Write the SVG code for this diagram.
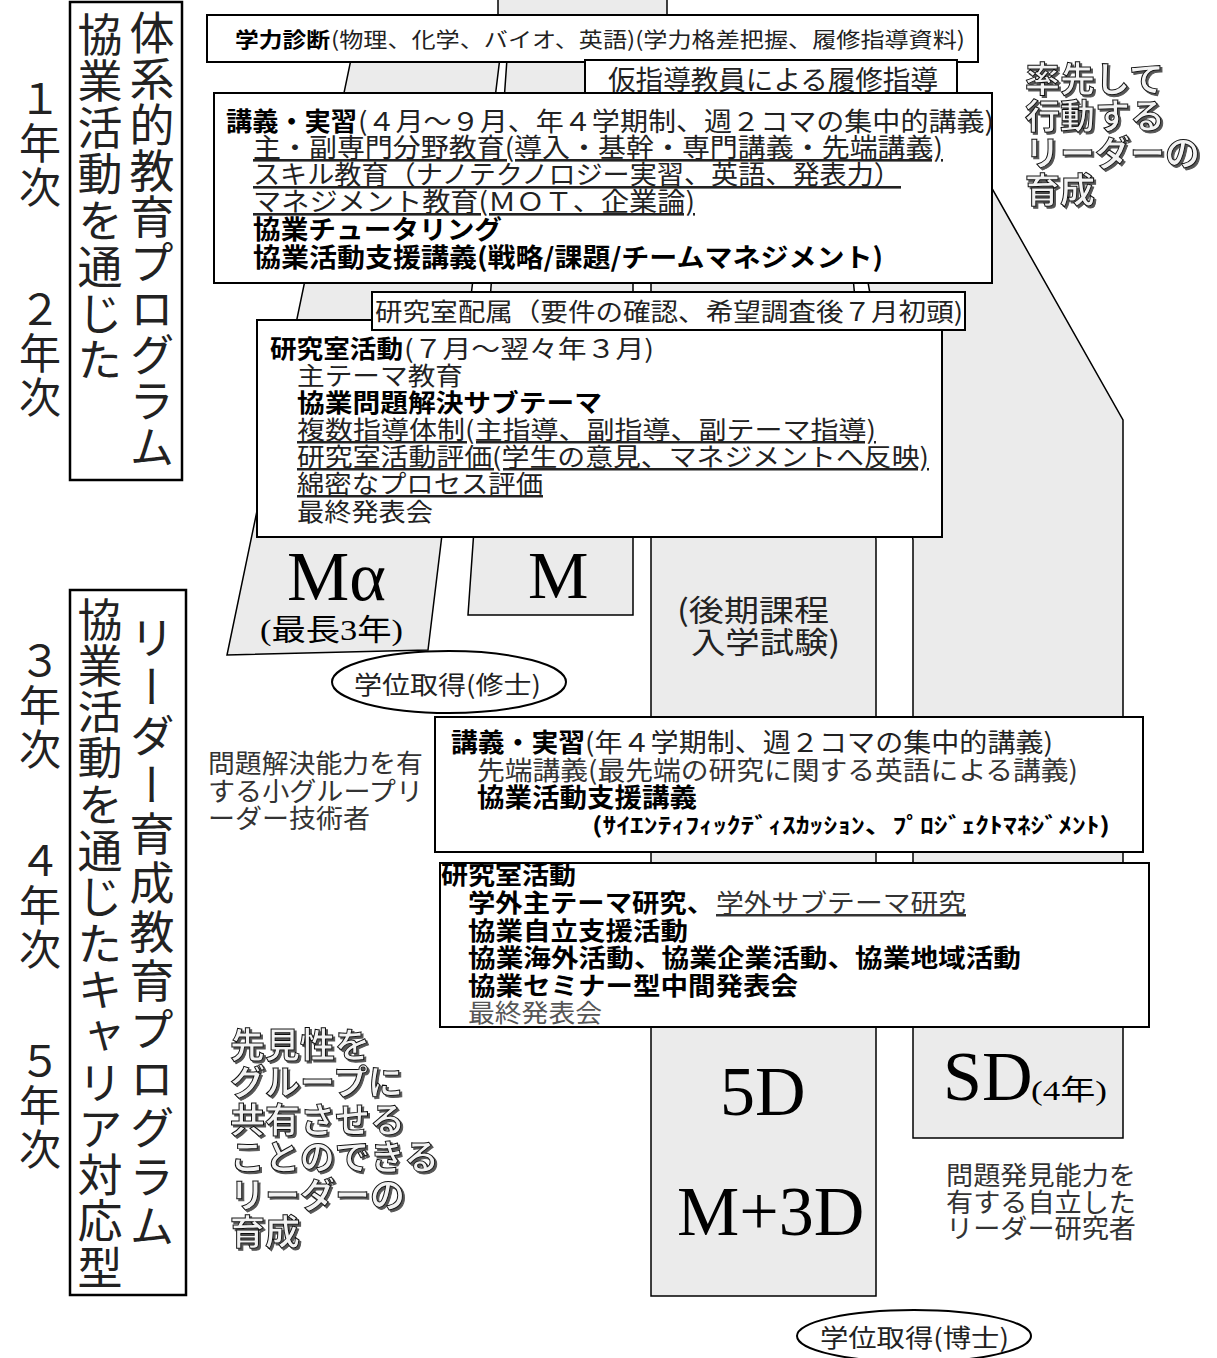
<svg xmlns="http://www.w3.org/2000/svg" width="1217" height="1358" viewBox="0 0 1217 1358">
<defs>
<style>
.col{fill:#ebebeb;stroke:#000;stroke-width:1.5}
.edge{stroke:#000;stroke-width:1.5;fill:none}
.box{fill:#fff;stroke:#000;stroke-width:2}
.lbox{fill:#fff;stroke:#000;stroke-width:2.5}
.j{font-family:"Noto Sans CJK JP","Noto Sans",sans-serif;fill:#222}
.b{font-weight:bold;fill:#000}
.u{text-decoration:underline}
.g{fill:#333}
.lg{fill:#555}
.s{font-family:"Liberation Serif","Noto Sans CJK JP",serif;fill:#000}
.v{writing-mode:vertical-rl}
.em{font-family:"Noto Sans CJK JP",sans-serif;font-weight:bold;font-size:35px;fill:#f2f2f2;stroke:#111;stroke-width:1;filter:url(#sh)}
</style>
<filter id="sh" x="-10%" y="-10%" width="130%" height="130%">
<feDropShadow dx="2" dy="2" stdDeviation="0.7" flood-color="#555"/>
</filter>
</defs>
<rect width="1217" height="1358" fill="#fff"/>

<g id="columns">
<rect x="498" y="0" width="169" height="17" fill="#ebebeb"/>
<line class="edge" x1="498" y1="0" x2="498" y2="17"/>
<line class="edge" x1="667" y1="0" x2="667" y2="17"/>
<polygon id="col-ma" class="col" points="360,16 505,16 428,650 227,655"/>
<polygon id="col-m" class="col" points="510,16 633,16 633,615 468,615"/>
<polygon id="col-5d" class="col" points="651,90 836,90 854,288 876,540 876,1296 651,1296"/>
<polygon id="col-sd" class="col" points="836,100 942,100 1123,420 1123,1138 913,1138 913,540 869,288"/>
</g>

<g id="label-years" class="j">
<text class="v" x="40" y="78" font-size="42" letter-spacing="2">１年次</text>
<text class="v" x="40" y="288" font-size="42" letter-spacing="2">２年次</text>
<text class="v" x="40" y="640" font-size="42" letter-spacing="2">３年次</text>
<text class="v" x="40" y="840" font-size="42" letter-spacing="2">４年次</text>
<text class="v" x="40" y="1040" font-size="42" letter-spacing="2">５年次</text>
</g>

<g id="program1">
<rect class="lbox" x="70" y="2" width="112" height="478"/>
<text class="j v" x="152" y="10" font-size="45" letter-spacing="1">体系的教育プログラム</text>
<text class="j v" x="100" y="12" font-size="45" letter-spacing="1.5">協業活動を通じた</text>
</g>

<g id="program2">
<rect class="lbox" x="70" y="590" width="116" height="705"/>
<text class="j v" x="152" y="615" font-size="45" letter-spacing="4">リーダー育成教育プログラム</text>
<text class="j v" x="100" y="597" font-size="45" letter-spacing="1.3">協業活動を通じたキャリア対応型</text>
</g>

<g id="diagnosis">
<rect class="box" x="207" y="15" width="771" height="47"/>
<text class="j" font-size="21"><tspan class="b" x="235" y="47" textLength="95" lengthAdjust="spacingAndGlyphs">学力診断</tspan><tspan x="331" y="47" textLength="634" lengthAdjust="spacingAndGlyphs">(物理、化学、バイオ、英語)(学力格差把握、履修指導資料)</tspan></text>
</g>

<g id="guidance">
<rect class="box" x="585" y="60" width="372" height="37"/>
<text class="j" x="608" y="90" font-size="27" textLength="330" lengthAdjust="spacingAndGlyphs">仮指導教員による履修指導</text>
</g>

<g id="lecture1">
<rect class="box" x="214" y="93" width="778" height="190"/>
<text class="j" font-size="26"><tspan class="b" x="226" y="131" textLength="131" lengthAdjust="spacingAndGlyphs">講義・実習</tspan><tspan x="358" y="131" textLength="636" lengthAdjust="spacingAndGlyphs">(４月～９月、年４学期制、週２コマの集中的講義)</tspan><tspan class="u" x="253" y="157" textLength="690" lengthAdjust="spacingAndGlyphs">主・副専門分野教育(導入・基幹・専門講義・先端講義)</tspan><tspan class="u" x="253" y="184" textLength="648" lengthAdjust="spacingAndGlyphs">スキル教育（ナノテクノロジー実習、英語、発表力）</tspan><tspan class="u" x="253" y="211" textLength="442" lengthAdjust="spacingAndGlyphs">マネジメント教育(ＭＯＴ、企業論)</tspan><tspan class="b" x="253" y="239" textLength="249" lengthAdjust="spacingAndGlyphs">協業チュータリング</tspan><tspan class="b" x="253" y="267" textLength="630" lengthAdjust="spacingAndGlyphs">協業活動支援講義(戦略/課題/チームマネジメント)</tspan></text>
</g>

<g id="lab1">
<rect class="box" x="257" y="320" width="685" height="217"/>
<text class="j" font-size="25"><tspan class="b" x="270" y="358" textLength="133" lengthAdjust="spacingAndGlyphs">研究室活動</tspan><tspan x="404" y="358" textLength="250" lengthAdjust="spacingAndGlyphs">(７月～翌々年３月)</tspan><tspan x="297" y="385" textLength="166" lengthAdjust="spacingAndGlyphs">主テーマ教育</tspan><tspan class="b" x="297" y="412" textLength="305" lengthAdjust="spacingAndGlyphs">協業問題解決サブテーマ</tspan><tspan class="u" x="297" y="439" textLength="579" lengthAdjust="spacingAndGlyphs">複数指導体制(主指導、副指導、副テーマ指導)</tspan><tspan class="u" x="297" y="466" textLength="632" lengthAdjust="spacingAndGlyphs">研究室活動評価(学生の意見、マネジメントへ反映)</tspan><tspan class="u" x="297" y="493" textLength="246" lengthAdjust="spacingAndGlyphs">綿密なプロセス評価</tspan><tspan x="297" y="521" textLength="136" lengthAdjust="spacingAndGlyphs">最終発表会</tspan></text>
</g>

<g id="assign">
<rect class="box" x="372" y="292" width="593" height="38"/>
<text class="j" x="375" y="321" font-size="25" textLength="588" lengthAdjust="spacingAndGlyphs">研究室配属（要件の確認、希望調査後７月初頭)</text>
</g>

<g id="node-ma">
<text class="s"><tspan x="287" y="600" font-size="70">Mα</tspan><tspan x="260" y="640" font-size="30" textLength="143" lengthAdjust="spacingAndGlyphs">(最長3年)</tspan></text>
</g>

<g id="node-m">
<text class="s" x="528" y="598" font-size="68">M</text>
</g>

<g id="node-exam">
<text class="j" font-size="30"><tspan x="677" y="621" textLength="152" lengthAdjust="spacingAndGlyphs">(後期課程</tspan><tspan x="691" y="653" textLength="149" lengthAdjust="spacingAndGlyphs">入学試験)</tspan></text>
</g>

<g id="degree-master">
<ellipse cx="449" cy="682" rx="117" ry="31" fill="#fff" stroke="#000" stroke-width="2"/>
<text class="j" x="354" y="694" font-size="25" textLength="187" lengthAdjust="spacingAndGlyphs">学位取得(修士)</text>
</g>

<g id="goal-small">
<text class="j g" font-size="26"><tspan x="208" y="773" textLength="215" lengthAdjust="spacingAndGlyphs">問題解決能力を有</tspan><tspan x="208" y="801" textLength="215" lengthAdjust="spacingAndGlyphs">する小グループリ</tspan><tspan x="208" y="828" textLength="162" lengthAdjust="spacingAndGlyphs">ーダー技術者</tspan></text>
</g>

<g id="lecture2">
<rect class="box" x="435" y="717" width="708" height="135"/>
<text class="j" font-size="26"><tspan class="b" x="451" y="752" textLength="134" lengthAdjust="spacingAndGlyphs">講義・実習</tspan><tspan x="585" y="752" textLength="468" lengthAdjust="spacingAndGlyphs">(年４学期制、週２コマの集中的講義)</tspan><tspan class="g" x="477" y="780" textLength="601" lengthAdjust="spacingAndGlyphs">先端講義(最先端の研究に関する英語による講義)</tspan><tspan class="b" x="477" y="807" textLength="220" lengthAdjust="spacingAndGlyphs">協業活動支援講義</tspan><tspan class="b" x="592" y="833" font-size="22" textLength="518" lengthAdjust="spacingAndGlyphs">(ｻｲｴﾝﾃｨﾌｨｯｸﾃﾞｨｽｶｯｼｮﾝ、ﾌﾟﾛｼﾞｪｸﾄﾏﾈｼﾞﾒﾝﾄ)</tspan></text>
</g>

<g id="lab2">
<rect class="box" x="440" y="863" width="709" height="164"/>
<text class="j" font-size="25"><tspan class="b" x="441" y="884" textLength="135" lengthAdjust="spacingAndGlyphs">研究室活動</tspan><tspan class="b" x="468" y="912" textLength="246" lengthAdjust="spacingAndGlyphs">学外主テーマ研究、</tspan><tspan class="u g" x="716" y="912" textLength="250" lengthAdjust="spacingAndGlyphs">学外サブテーマ研究</tspan><tspan class="b" x="468" y="940" textLength="220" lengthAdjust="spacingAndGlyphs">協業自立支援活動</tspan><tspan class="b" x="468" y="967" textLength="553" lengthAdjust="spacingAndGlyphs">協業海外活動、協業企業活動、協業地域活動</tspan><tspan class="b" x="468" y="995" textLength="330" lengthAdjust="spacingAndGlyphs">協業セミナー型中間発表会</tspan><tspan class="lg" x="468" y="1022" textLength="134" lengthAdjust="spacingAndGlyphs">最終発表会</tspan></text>
</g>

<g id="node-5d">
<text class="s" font-size="70"><tspan x="720" y="1115">5D</tspan><tspan x="677" y="1235">M+3D</tspan></text>
</g>

<g id="node-sd">
<text class="s"><tspan x="943" y="1100" font-size="70">SD</tspan><tspan x="1031" y="1100" font-size="28" textLength="76" lengthAdjust="spacingAndGlyphs">(4年)</tspan></text>
</g>

<g id="goal-researcher">
<text class="j g" font-size="26"><tspan x="946" y="1185" textLength="190" lengthAdjust="spacingAndGlyphs">問題発見能力を</tspan><tspan x="946" y="1212" textLength="190" lengthAdjust="spacingAndGlyphs">有する自立した</tspan><tspan x="946" y="1238" textLength="190" lengthAdjust="spacingAndGlyphs">リーダー研究者</tspan></text>
</g>

<g id="degree-doctor">
<ellipse cx="914" cy="1336" rx="117" ry="26" fill="#fff" stroke="#000" stroke-width="2"/>
<text class="j" x="820" y="1347" font-size="25" textLength="189" lengthAdjust="spacingAndGlyphs">学位取得(博士)</text>
</g>

<g id="slogan-top">
<text class="em"><tspan x="1025" y="92">率先して</tspan><tspan x="1025" y="129">行動する</tspan><tspan x="1025" y="166">リーダーの</tspan><tspan x="1025" y="203">育成</tspan></text>
</g>

<g id="slogan-bottom">
<text class="em"><tspan x="230" y="1058">先見性を</tspan><tspan x="230" y="1095">グループに</tspan><tspan x="230" y="1133">共有させる</tspan><tspan x="230" y="1170">ことのできる</tspan><tspan x="230" y="1208">リーダーの</tspan><tspan x="230" y="1245">育成</tspan></text>
</g>
</svg>
